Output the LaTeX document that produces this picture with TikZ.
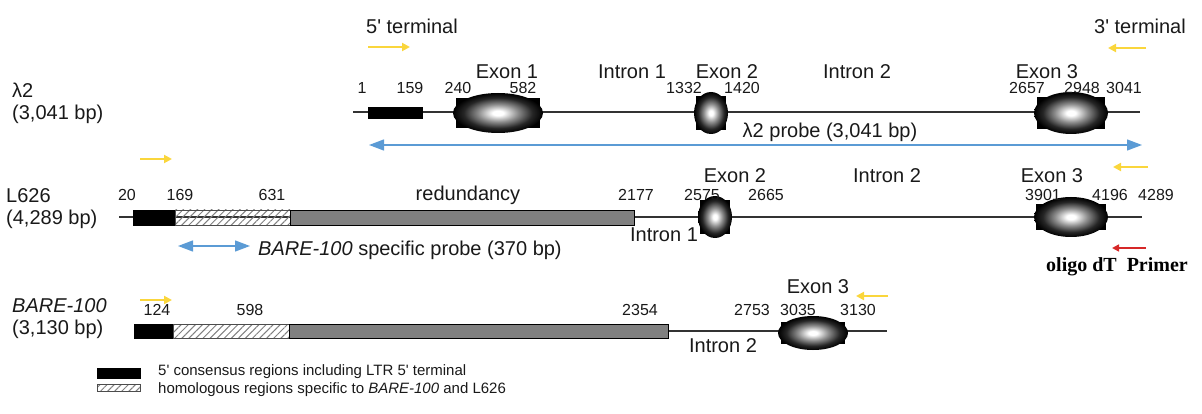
\documentclass[tikz,border=0pt]{standalone}
\usepackage{fontspec}
\setmainfont{Liberation Sans}
\newfontfamily\serifbold{Liberation Serif}
\usetikzlibrary{patterns.meta,arrows.meta}
\definecolor{yel}{RGB}{250,214,60}
\definecolor{blu}{RGB}{91,155,213}
\definecolor{redc}{RGB}{214,40,40}
\newcommand\apos{\textquotesingle}
\pgfdeclareradialshading{exonshade}{\pgfpoint{0bp}{0bp}}{color(0bp)=(white); color(3bp)=(white); color(11bp)=(black!45); color(19bp)=(black!85); color(25bp)=(black); color(50bp)=(black)}
\tikzset{
  lbl/.style={font=\fontsize{20}{22}\selectfont, inner sep=0pt, text=black!90},
  num/.style={font=\fontsize{16}{18}\selectfont, inner sep=0pt, text=black!90},
  leg/.style={font=\fontsize{15}{17}\selectfont, inner sep=0pt, anchor=west, text=black!90},
  dna/.style={draw=black!80, line width=1.4pt},
  blkbox/.style={fill=black, draw=black, line width=0.6pt},
  hatchbox/.style={draw=black!70, line width=0.6pt, pattern={Lines[angle=45,distance=5pt,line width=1pt]}, pattern color=black!50},
  greybox/.style={fill=black!50, draw=black, line width=0.9pt},
  yarrow/.style={draw=yel, line width=2pt, -{Triangle[length=8pt,width=8pt]}},
  barrow/.style={draw=blu, line width=1.3pt, {Triangle[length=15pt,width=11pt]}-{Triangle[length=15pt,width=11pt]}},
  rarrow/.style={draw=redc, line width=1.5pt, -{Triangle[length=7pt,width=7pt]}},
  pics/exon/.style n args={4}{code={
    \fill[black] (-#3,-#4) rectangle (#3,#4);
    \shade[shading=exonshade] (0,0) ellipse [x radius=#1pt, y radius=#2pt];
  }}
}
\begin{document}
\begin{tikzpicture}[x=1pt,y=-1pt]
\useasboundingbox (0,0) rectangle (1202,414);

% ---------------- Row 1 : lambda2 ----------------
\node[lbl, anchor=west] (l2a) at (12,90) {λ2};
\node[lbl, anchor=west] (l2b) at (12,114) {(3,041 bp)};
\node[lbl] (t5) at (412,26) {5\apos{} terminal};
\node[lbl] (t3) at (1140,26) {3\apos{} terminal};
\coordinate (y1a) at (368,47); \coordinate (y1b) at (410,47);
\draw[yarrow] (y1a) -- (y1b);
\coordinate (y2a) at (1146,48); \coordinate (y2b) at (1108,48);
\draw[yarrow] (y2a) -- (y2b);

\coordinate (r1s) at (353,112); \coordinate (r1e) at (1140,112);
\draw[dna] (r1s) -- (r1e);
\filldraw[blkbox] (368,107) rectangle (422,118);
\pic at (498,113) {exon={45}{20}{42}{15}};
\pic at (711,113) {exon={17}{21}{15}{17}};
\pic at (1071,113) {exon={37}{21}{34}{16}};

\node[lbl] (e11) at (507,72) {Exon 1};
\node[lbl] (i11) at (632,72) {Intron 1};
\node[lbl] (e12) at (727,72) {Exon 2};
\node[lbl] (i12) at (857,72) {Intron 2};
\node[lbl] (e13) at (1047,72) {Exon 3};
\node[num] (n101) at (362,88) {1};
\node[num] (n102) at (410,88) {159};
\node[num] (n103) at (458,88) {240};
\node[num] (n104) at (523,88) {582};
\node[num] (n105) at (684,88) {1332};
\node[num] (n106) at (742,88) {1420};
\node[num] (n107) at (1027,88) {2657};
\node[num] (n108) at (1082,88) {2948};
\node[num] (n109) at (1124,88) {3041};

\coordinate (p1a) at (369,145); \coordinate (p1b) at (1142,145);
\draw[barrow] (p1a) -- (p1b);
\node[lbl] (p1t) at (830,132) {λ2 probe (3,041 bp)};

% ---------------- Row 2 : L626 ----------------
\node[lbl, anchor=west] (l6a) at (6,196) {L626};
\node[lbl, anchor=west] (l6b) at (6,219) {(4,289 bp)};
\coordinate (y3a) at (140,159); \coordinate (y3b) at (172,159);
\draw[yarrow] (y3a) -- (y3b);
\coordinate (y4a) at (1148,167); \coordinate (y4b) at (1113,167);
\draw[yarrow] (y4a) -- (y4b);

\coordinate (r2s) at (119,217); \coordinate (r2e) at (1142,217);
\draw[dna] (r2s) -- (r2e);
\filldraw[blkbox] (133,210) rectangle (175,225);
\filldraw[hatchbox] (175,210) rectangle (290,225);
\filldraw[greybox] (290,210) rectangle (634,225);
\pic at (715,217) {exon={17}{21}{15}{17}};
\pic at (1071,217) {exon={37}{20}{35}{13}};

\node[lbl] (red) at (468,195) {redundancy};
\node[lbl] (e22) at (735,176) {Exon 2};
\node[lbl] (i22) at (887,176) {Intron 2};
\node[lbl] (e23) at (1052,176) {Exon 3};
\node[lbl] (i21) at (664,235) {Intron 1};
\node[num] (n201) at (127,195) {20};
\node[num] (n202) at (180,195) {169};
\node[num] (n203) at (272,195) {631};
\node[num] (n204) at (636,195) {2177};
\node[num] (n205) at (702,195) {2575};
\node[num] (n206) at (766,195) {2665};
\node[num] (n207) at (1043,195) {3901};
\node[num] (n208) at (1110,195) {4196};
\node[num] (n209) at (1156,195) {4289};

\coordinate (p2a) at (178,246); \coordinate (p2b) at (250,246);
\draw[barrow] (p2a) -- (p2b);
\node[lbl, anchor=west] (p2t) at (258,250) {\textit{BARE-100} specific probe (370 bp)};
\coordinate (rda) at (1146,248); \coordinate (rdb) at (1112,248);
\draw[rarrow] (rda) -- (rdb);
\node[inner sep=0pt, font=\serifbold\bfseries\fontsize{20}{22}\selectfont] (olig) at (1117,267) {oligo dT\ \ Primer};

% ---------------- Row 3 : BARE-100 ----------------
\node[lbl, anchor=west] (b1a) at (12,306) {\textit{BARE-100}};
\node[lbl, anchor=west] (b1b) at (12,329) {(3,130 bp)};
\coordinate (y5a) at (140,300); \coordinate (y5b) at (172,300);
\draw[yarrow] (y5a) -- (y5b);
\coordinate (y6a) at (888,296); \coordinate (y6b) at (856,296);
\draw[yarrow] (y6a) -- (y6b);

\coordinate (r3s) at (668,331); \coordinate (r3e) at (887,331);
\draw[dna] (r3s) -- (r3e);
\filldraw[blkbox] (134,324) rectangle (173,338);
\filldraw[hatchbox] (173,324) rectangle (289,338);
\filldraw[greybox] (289,324) rectangle (668,338);
\pic at (813,333) {exon={35}{17}{32}{11}};

\node[lbl] (e33) at (818,287) {Exon 3};
\node[lbl] (i32) at (723,346) {Intron 2};
\node[num] (n301) at (157,310) {124};
\node[num] (n302) at (250,310) {598};
\node[num] (n303) at (640,310) {2354};
\node[num] (n304) at (752,310) {2753};
\node[num] (n305) at (798,310) {3035};
\node[num] (n306) at (858,310) {3130};

% ---------------- Legend ----------------
\filldraw[blkbox] (97,368) rectangle (140,378);
\node[leg] (lg1) at (158,372) {5\apos{} consensus regions including LTR 5\apos{} terminal};
\filldraw[hatchbox] (97,384) rectangle (140,391);
\node[leg] (lg2) at (158,390) {homologous regions specific to \textit{BARE-100} and L626};
\end{tikzpicture}
\end{document}
